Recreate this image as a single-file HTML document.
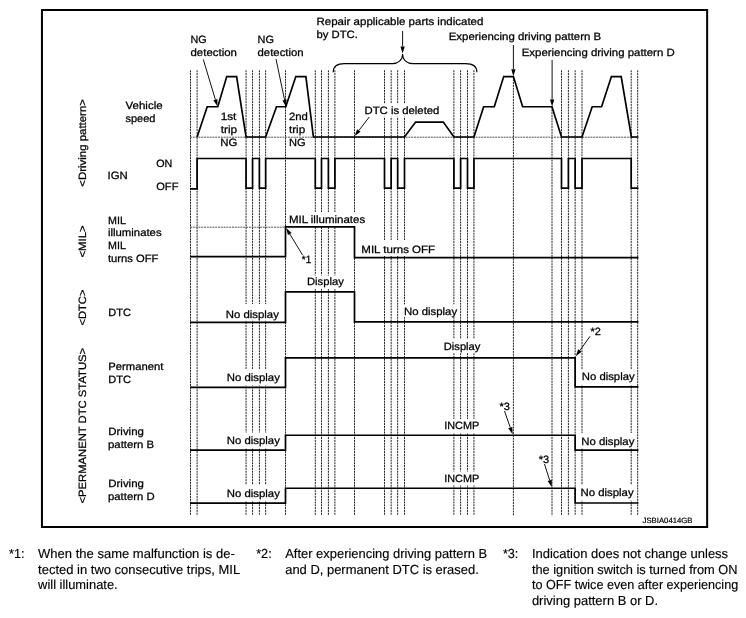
<!DOCTYPE html>
<html><head><meta charset="utf-8"><title>Diagram</title>
<style>html,body{margin:0;padding:0;background:#fff}body{width:746px;height:618px;position:relative;overflow:hidden;font-family:"Liberation Sans",sans-serif}</style></head>
<body>
<svg width="746" height="618" viewBox="0 0 746 618" style="position:absolute;left:0;top:0;will-change:transform">
<rect x="41.95" y="10" width="665.2" height="517" fill="none" stroke="#000" stroke-width="2"/>
<g stroke="#222" stroke-width="1" stroke-dasharray="2 0.8" fill="none">
<line x1="190.5" y1="70.3" x2="190.5" y2="515.6"/>
<line x1="197.1" y1="70.3" x2="197.1" y2="515.6"/>
<line x1="246.05" y1="70.3" x2="246.05" y2="515.6"/>
<line x1="252.55" y1="70.3" x2="252.55" y2="515.6"/>
<line x1="259.4" y1="70.3" x2="259.4" y2="515.6"/>
<line x1="265.65" y1="70.3" x2="265.65" y2="515.6"/>
<line x1="285.5" y1="70.3" x2="285.5" y2="515.6"/>
<line x1="315.3" y1="70.3" x2="315.3" y2="515.6"/>
<line x1="321.5" y1="70.3" x2="321.5" y2="515.6"/>
<line x1="328.4" y1="70.3" x2="328.4" y2="515.6"/>
<line x1="334.9" y1="70.3" x2="334.9" y2="515.6"/>
<line x1="354.5" y1="70.3" x2="354.5" y2="515.6"/>
<line x1="384.5" y1="70.3" x2="384.5" y2="515.6"/>
<line x1="391.15" y1="70.3" x2="391.15" y2="515.6"/>
<line x1="397.65" y1="70.3" x2="397.65" y2="515.6"/>
<line x1="404.5" y1="70.3" x2="404.5" y2="515.6"/>
<line x1="453.9" y1="70.3" x2="453.9" y2="515.6"/>
<line x1="460.6" y1="70.3" x2="460.6" y2="515.6"/>
<line x1="467.5" y1="70.3" x2="467.5" y2="515.6"/>
<line x1="473.95" y1="70.3" x2="473.95" y2="515.6"/>
<line x1="561.5" y1="70.3" x2="561.5" y2="515.6"/>
<line x1="568.4" y1="70.3" x2="568.4" y2="515.6"/>
<line x1="575.15" y1="70.3" x2="575.15" y2="515.6"/>
<line x1="582.0" y1="70.3" x2="582.0" y2="515.6"/>
<line x1="631.2" y1="70.3" x2="631.2" y2="515.6"/>
<line x1="637.7" y1="70.3" x2="637.7" y2="515.6"/>
<line x1="513.4" y1="76.5" x2="513.4" y2="515.6"/>
<line x1="552" y1="106.5" x2="552" y2="515.6"/>
</g>
<g stroke="#555" stroke-width="1" stroke-dasharray="2 0.8" fill="none">
<line x1="190" y1="137.2" x2="638" y2="137.2"/>
<line x1="190" y1="227.2" x2="285" y2="227.2"/>
</g>
<rect x="287" y="212" width="79" height="14.2" fill="#fff"/>
<rect x="305" y="275.5" width="40" height="13.5" fill="#fff"/>
<rect x="224" y="304" width="56" height="16.8" fill="#fff"/>
<rect x="360" y="240" width="76" height="16" fill="#fff"/>
<rect x="402.5" y="304.5" width="56" height="12.5" fill="#fff"/>
<rect x="442" y="339" width="40" height="14.2" fill="#fff"/>
<rect x="225" y="369" width="56" height="16.5" fill="#fff"/>
<rect x="580" y="369.5" width="56" height="16" fill="#fff"/>
<rect x="442.5" y="419" width="38" height="14" fill="#fff"/>
<rect x="442.5" y="471.5" width="38" height="14" fill="#fff"/>
<rect x="225" y="432.5" width="56" height="16" fill="#fff"/>
<rect x="225" y="485" width="56" height="16" fill="#fff"/>
<rect x="580" y="433" width="56" height="15.5" fill="#fff"/>
<rect x="579" y="485" width="57" height="15.5" fill="#fff"/>
<rect x="363" y="103.5" width="77" height="13.3" fill="#fff"/>
<g stroke="#000" stroke-width="1.7" fill="none" stroke-linejoin="miter" stroke-linecap="butt">
<polyline points="197.1,137.0 207.2,106.75 217.8,106.75 226.75,76.6 236.6,76.6 246.05,137.0 265.65,137.0 276.5,106.75 285.8,106.75 295.8,76.6 305.9,76.6 313.4,137.0 404.5,137.0 415.6,122.1 443.3,122.1 453.9,137.0 473.95,137.0 483.65,106.75 494.3,106.75 503.7,76.6 513.4,76.6 522.65,106.75 552,106.75 561.5,137.0 582,137.0 592.2,106.75 601.6,106.75 611.4,76.6 621.2,76.6 631.4,137.0 638.4,137.0"/>
<polyline points="190,188.9 197.1,188.9 197.1,158.5 246.05,158.5 246.05,188.05 252.55,188.05 252.55,158.5 259.4,158.5 259.4,188.05 265.65,188.05 265.65,158.5 315.3,158.5 315.3,188.05 321.5,188.05 321.5,158.5 328.4,158.5 328.4,188.05 334.9,188.05 334.9,158.5 384.5,158.5 384.5,188.05 391.15,188.05 391.15,158.5 397.65,158.5 397.65,188.05 404.5,188.05 404.5,158.5 453.9,158.5 453.9,188.05 460.6,188.05 460.6,158.5 467.5,158.5 467.5,188.05 473.95,188.05 473.95,158.5 561.5,158.5 561.5,188.05 568.4,188.05 568.4,158.5 575.15,158.5 575.15,188.05 582,188.05 582,158.5 631.2,158.5 631.2,188.05 638.4,188.05"/>
<polyline points="190,256.6 285.5,256.6 285.5,226.95 354.5,226.95 354.5,257.6 638.4,257.6"/>
<polyline points="190,322.3 285.5,322.3 285.5,291.85 354.5,291.85 354.5,321.9 638.4,321.9"/>
<polyline points="190,387.4 285.5,387.4 285.5,357.9 575.15,357.9 575.15,386.95 638.4,386.95"/>
<polyline points="190,450.1 285.5,450.1 285.5,435.25 575.15,435.25 575.15,450.2 638.4,450.2"/>
<polyline points="190,503.05 285.5,503.05 285.5,488.25 575.15,488.25 575.15,503 638.4,503"/>
</g>
<path d="M333.2,72.3 C333.2,66 338,63.6 344.5,63.6 L392.5,63.6 C398,63.6 402.6,60 402.6,54 C402.6,60 407,63.6 413,63.6 L465.5,63.6 C472,63.6 476.9,66 476.9,72.2" fill="none" stroke="#000" stroke-width="1.1"/>
<line x1="203.3" y1="59.5" x2="215.38" y2="99.60" stroke="#111" stroke-width="1"/><polygon points="217.4,106.3 213.32,100.22 217.44,98.98" fill="#000"/>
<line x1="276" y1="59" x2="284.57" y2="99.95" stroke="#111" stroke-width="1"/><polygon points="286.0,106.8 282.46,100.39 286.67,99.51" fill="#000"/>
<line x1="402.6" y1="31" x2="402.60" y2="46.40" stroke="#111" stroke-width="1"/><polygon points="402.6,53.4 400.45,46.40 404.75,46.40" fill="#000"/>
<line x1="513.4" y1="45" x2="513.40" y2="69.30" stroke="#111" stroke-width="1"/><polygon points="513.4,76.3 511.25,69.30 515.55,69.30" fill="#000"/>
<line x1="552.1" y1="60" x2="552.10" y2="99.60" stroke="#111" stroke-width="1"/><polygon points="552.1,106.6 549.95,99.60 554.25,99.60" fill="#000"/>
<line x1="369.25" y1="117" x2="358.87" y2="130.46" stroke="#111" stroke-width="1"/><polygon points="354.6,136.0 357.17,129.14 360.58,131.77" fill="#000"/>
<line x1="302.5" y1="255" x2="289.82" y2="233.99" stroke="#111" stroke-width="1"/><polygon points="286.2,228 291.66,232.88 287.98,235.10" fill="#000"/>
<line x1="590" y1="336.3" x2="579.87" y2="350.50" stroke="#111" stroke-width="1"/><polygon points="575.8,356.2 578.12,349.25 581.62,351.75" fill="#000"/>
<line x1="504.5" y1="411" x2="510.29" y2="427.59" stroke="#111" stroke-width="1"/><polygon points="512.6,434.2 508.26,428.30 512.32,426.88" fill="#000"/>
<line x1="544.5" y1="464" x2="549.68" y2="480.33" stroke="#111" stroke-width="1"/><polygon points="551.8,487 547.63,480.98 551.73,479.68" fill="#000"/>
<g font-family="Liberation Sans, sans-serif" font-size="10.6px" fill="#000" stroke="#000" stroke-width="0.27" text-rendering="geometricPrecision">
<text x="125.5" y="108.75" textLength="37.15" lengthAdjust="spacingAndGlyphs">Vehicle</text>
<text x="125.5" y="121.75" textLength="30.00" lengthAdjust="spacingAndGlyphs">speed</text>
<text x="156.25" y="167.0" textLength="16.15" lengthAdjust="spacingAndGlyphs">ON</text>
<text x="156.25" y="190.25" textLength="22.15" lengthAdjust="spacingAndGlyphs">OFF</text>
<text x="107.5" y="179.25" textLength="20.15" lengthAdjust="spacingAndGlyphs">IGN</text>
<text x="108" y="223.5" textLength="17.90" lengthAdjust="spacingAndGlyphs">MIL</text>
<text x="108" y="236.1" textLength="53.60" lengthAdjust="spacingAndGlyphs">illuminates</text>
<text x="108" y="249.25" textLength="17.90" lengthAdjust="spacingAndGlyphs">MIL</text>
<text x="108" y="262.25" textLength="50.40" lengthAdjust="spacingAndGlyphs">turns OFF</text>
<text x="108.25" y="315.5" textLength="22.65" lengthAdjust="spacingAndGlyphs">DTC</text>
<text x="108.25" y="369.5" textLength="55.15" lengthAdjust="spacingAndGlyphs">Permanent</text>
<text x="108.25" y="382.5" textLength="22.65" lengthAdjust="spacingAndGlyphs">DTC</text>
<text x="108.25" y="434.5" textLength="35.65" lengthAdjust="spacingAndGlyphs">Driving</text>
<text x="108" y="447.5" textLength="46.15" lengthAdjust="spacingAndGlyphs">pattern B</text>
<text x="108.25" y="486.7" textLength="35.65" lengthAdjust="spacingAndGlyphs">Driving</text>
<text x="108" y="499.75" textLength="46.65" lengthAdjust="spacingAndGlyphs">pattern D</text>
<text x="190.5" y="43.0" textLength="16.15" lengthAdjust="spacingAndGlyphs">NG</text>
<text x="190.5" y="56.0" textLength="46.40" lengthAdjust="spacingAndGlyphs">detection</text>
<text x="257.5" y="43.3" textLength="16.40" lengthAdjust="spacingAndGlyphs">NG</text>
<text x="257.5" y="56.4" textLength="46.15" lengthAdjust="spacingAndGlyphs">detection</text>
<text x="316.5" y="24.6" textLength="166.90" lengthAdjust="spacingAndGlyphs">Repair applicable parts indicated</text>
<text x="316.5" y="38.0" textLength="41.40" lengthAdjust="spacingAndGlyphs">by DTC.</text>
<text x="448.75" y="39.5" textLength="152.40" lengthAdjust="spacingAndGlyphs">Experiencing driving pattern B</text>
<text x="521.75" y="55.5" textLength="152.90" lengthAdjust="spacingAndGlyphs">Experiencing driving pattern D</text>
<text x="220.7" y="120.0" textLength="15.70" lengthAdjust="spacingAndGlyphs">1st</text>
<text x="220.7" y="133.1" textLength="16.45" lengthAdjust="spacingAndGlyphs">trip</text>
<text x="220.3" y="146.3" textLength="17.10" lengthAdjust="spacingAndGlyphs">NG</text>
<text x="288.9" y="120.0" textLength="19.00" lengthAdjust="spacingAndGlyphs">2nd</text>
<text x="288.9" y="133.1" textLength="16.25" lengthAdjust="spacingAndGlyphs">trip</text>
<text x="288.9" y="146.3" textLength="16.60" lengthAdjust="spacingAndGlyphs">NG</text>
<text x="364.5" y="113.7" textLength="74.90" lengthAdjust="spacingAndGlyphs">DTC is deleted</text>
<text x="288.9" y="222.7" textLength="76.25" lengthAdjust="spacingAndGlyphs">MIL illuminates</text>
<text x="361.3" y="253.4" textLength="73.85" lengthAdjust="spacingAndGlyphs">MIL turns OFF</text>
<text x="301.8" y="263.4" textLength="9.40" lengthAdjust="spacingAndGlyphs">*1</text>
<text x="307" y="284.5" textLength="36.90" lengthAdjust="spacingAndGlyphs">Display</text>
<text x="225.75" y="317.5" textLength="53.15" lengthAdjust="spacingAndGlyphs">No display</text>
<text x="404" y="314.5" textLength="53.15" lengthAdjust="spacingAndGlyphs">No display</text>
<text x="443.75" y="349.5" textLength="36.65" lengthAdjust="spacingAndGlyphs">Display</text>
<text x="590.5" y="334.5" textLength="10.40" lengthAdjust="spacingAndGlyphs">*2</text>
<text x="226.75" y="380.5" textLength="53.15" lengthAdjust="spacingAndGlyphs">No display</text>
<text x="581.75" y="380.0" textLength="52.90" lengthAdjust="spacingAndGlyphs">No display</text>
<text x="444.25" y="429.2" textLength="34.90" lengthAdjust="spacingAndGlyphs">INCMP</text>
<text x="444.25" y="482.0" textLength="34.90" lengthAdjust="spacingAndGlyphs">INCMP</text>
<text x="499.5" y="410.0" textLength="10.40" lengthAdjust="spacingAndGlyphs">*3</text>
<text x="538.75" y="462.5" textLength="10.40" lengthAdjust="spacingAndGlyphs">*3</text>
<text x="226.75" y="443.5" textLength="53.15" lengthAdjust="spacingAndGlyphs">No display</text>
<text x="226.75" y="496.5" textLength="53.15" lengthAdjust="spacingAndGlyphs">No display</text>
<text x="581.25" y="444.5" textLength="53.15" lengthAdjust="spacingAndGlyphs">No display</text>
<text x="580.5" y="495.75" textLength="53.15" lengthAdjust="spacingAndGlyphs">No display</text>
<text transform="translate(86.4,186.7) rotate(-90)" textLength="87.65" lengthAdjust="spacingAndGlyphs">&lt;Driving pattern&gt;</text>
<text transform="translate(86.4,257.5) rotate(-90)" textLength="32.15" lengthAdjust="spacingAndGlyphs">&lt;MIL&gt;</text>
<text transform="translate(86.4,325.5) rotate(-90)" textLength="35.90" lengthAdjust="spacingAndGlyphs">&lt;DTC&gt;</text>
<text transform="translate(86.4,503.5) rotate(-90)" textLength="155.65" lengthAdjust="spacingAndGlyphs">&lt;PERMANENT DTC STATUS&gt;</text>
</g>
<text x="642.6" y="522.7" font-family="Liberation Sans, sans-serif" font-size="7.6px" textLength="49.9" lengthAdjust="spacingAndGlyphs" fill="#000" stroke="#000" stroke-width="0.2" text-rendering="geometricPrecision">JSBIA0414GB</text>
<g font-family="Liberation Sans, sans-serif" font-size="13.1px" fill="#000" stroke="#000" stroke-width="0.15" text-rendering="geometricPrecision">
<text x="9.0" y="557.7" textLength="15.50" lengthAdjust="spacingAndGlyphs">*1:</text>
<text x="38.1" y="557.7" textLength="196.70" lengthAdjust="spacingAndGlyphs">When the same malfunction is de-</text>
<text x="38.1" y="573.9" textLength="202.10" lengthAdjust="spacingAndGlyphs">tected in two consecutive trips, MIL</text>
<text x="38.1" y="588.5" textLength="79.60" lengthAdjust="spacingAndGlyphs">will illuminate.</text>
<text x="256.2" y="557.7" textLength="15.50" lengthAdjust="spacingAndGlyphs">*2:</text>
<text x="285.2" y="557.7" textLength="202.00" lengthAdjust="spacingAndGlyphs">After experiencing driving pattern B</text>
<text x="285.2" y="573.9" textLength="193.60" lengthAdjust="spacingAndGlyphs">and D, permanent DTC is erased.</text>
<text x="502.9" y="557.7" textLength="15.50" lengthAdjust="spacingAndGlyphs">*3:</text>
<text x="531.9" y="557.7" textLength="196.20" lengthAdjust="spacingAndGlyphs">Indication does not change unless</text>
<text x="531.9" y="573.9" textLength="205.60" lengthAdjust="spacingAndGlyphs">the ignition switch is turned from ON</text>
<text x="531.9" y="588.5" textLength="206.30" lengthAdjust="spacingAndGlyphs">to OFF twice even after experiencing</text>
<text x="531.9" y="605.2" textLength="126.20" lengthAdjust="spacingAndGlyphs">driving pattern B or D.</text>
</g>
</svg>
</body></html>
